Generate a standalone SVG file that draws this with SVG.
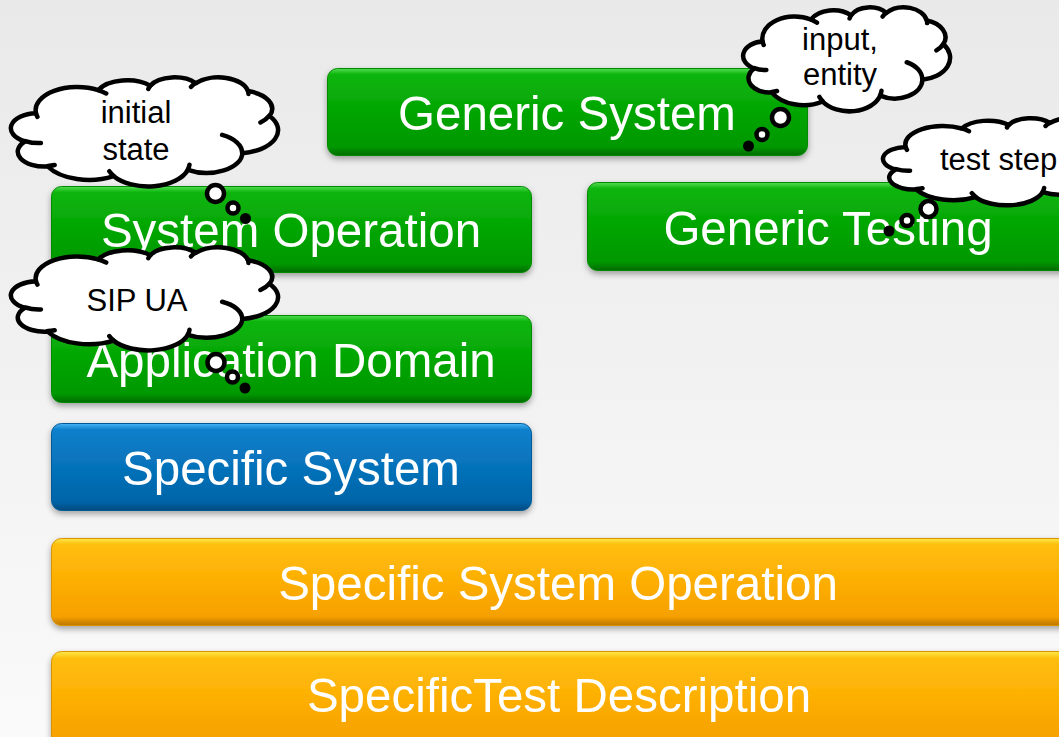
<svg xmlns="http://www.w3.org/2000/svg" xmlns:xlink="http://www.w3.org/1999/xlink" width="1059" height="737" viewBox="0 0 1059 737">
  <defs>
    <linearGradient id="bg" x1="0" y1="0" x2="0" y2="1">
      <stop offset="0" stop-color="#e9e9e9"/>
      <stop offset="1" stop-color="#fafafa"/>
    </linearGradient>
    <linearGradient id="gGreen" x1="0" y1="0" x2="0" y2="1">
      <stop offset="0" stop-color="#52dc52"/>
      <stop offset="0.07" stop-color="#0cb50c"/>
      <stop offset="0.5" stop-color="#04a504"/>
      <stop offset="0.9" stop-color="#009800"/>
      <stop offset="1" stop-color="#006c00"/>
    </linearGradient>
    <linearGradient id="gBlue" x1="0" y1="0" x2="0" y2="1">
      <stop offset="0" stop-color="#48b4f4"/>
      <stop offset="0.07" stop-color="#0b80cc"/>
      <stop offset="0.5" stop-color="#0672ba"/>
      <stop offset="0.9" stop-color="#0564a8"/>
      <stop offset="1" stop-color="#034a7e"/>
    </linearGradient>
    <linearGradient id="gOrange" x1="0" y1="0" x2="0" y2="1">
      <stop offset="0" stop-color="#ffe84a"/>
      <stop offset="0.07" stop-color="#ffbe0c"/>
      <stop offset="0.5" stop-color="#fdae04"/>
      <stop offset="0.9" stop-color="#f5a000"/>
      <stop offset="1" stop-color="#bd7600"/>
    </linearGradient>
    <filter id="shadow" x="-5%" y="-20%" width="110%" height="150%">
      <feDropShadow dx="0" dy="3" stdDeviation="3" flood-color="#000" flood-opacity="0.35"/>
    </filter>
    <!-- thought cloud outline in a 432 x 432 box -->
    <path id="cloudOutline" vector-effect="non-scaling-stroke" d="M 39,143.7 A 67.53 91.9 0 0 1 140.06 52.03 A 53.33 72.67 0 0 1 224.57 34.32 A 43.65 59.45 0 0 1 298.34 24.81 A 48.57 65.95 0 0 1 383.18 55.78 A 53.33 72.73 0 0 1 418.18 154.62 A 67.75 92.2 0 0 1 374.03 302.04 A 57.85 78.67 0 0 1 285.54 368.14 A 67.52 92.15 0 0 1 164.79 392.66 A 77.2 105.43 0 0 1 58.02 354.71 A 43.6 59.18 0 0 1 21.12 255.48 A 43.45 59.45 0 0 1 39 143.7 Z"/>
    <!-- inner crease arcs of the cloud -->
    <path id="cloudCreases" vector-effect="non-scaling-stroke" d="M 46.93 261.77 A 43.45 59.45 0 0 1 21.6 253.8 M 69.28 348.99 A 43.6 59.18 0 0 1 58.19 352.81 M 164.78 390.9 A 67.52 92.15 0 0 1 158.1 373.49 M 288.27 347.51 A 67.52 92.15 0 0 1 285.6 366.61 M 341.29 229.54 A 57.85 78.67 0 0 1 373.81 300.9 M 417.98 153.54 A 53.33 72.73 0 0 1 403.5 180.31 M 383.24 54.26 A 48.57 65.95 0 0 1 384.0 66.9 M 290.78 39.52 A 48.57 65.95 0 0 1 298.21 23.38 M 221.41 47.2 A 43.65 59.45 0 0 1 225 33.3 M 140 51.92 A 67.53 91.9 0 0 1 152.99 65.4 M 41.27 157.89 A 67.53 91.9 0 0 1 39 143.7"/>
  </defs>
  <style>
    .box { filter: url(#shadow); }
    .green { fill: url(#gGreen); stroke: #058a05; stroke-width: 1; }
    .blue { fill: url(#gBlue); stroke: #055a96; stroke-width: 1; }
    .orange { fill: url(#gOrange); stroke: #d99200; stroke-width: 1; }
    .label { font-family: "Liberation Sans", Arial, sans-serif; font-size: 47.5px; fill: #ffffff; text-anchor: middle; }
    .cloud { fill: #ffffff; stroke: #000000; stroke-width: 4.5; stroke-linejoin: round; }
    .crease { fill: none; stroke: #000000; stroke-width: 4.5; stroke-linecap: round; }
    .bubble { fill: #ffffff; stroke: #000000; stroke-width: 4.5; }
    .dot { fill: #000000; }
    .note { font-family: "Liberation Sans", Arial, sans-serif; font-size: 31px; fill: #000000; text-anchor: middle; }
  </style>

  <rect x="0" y="0" width="1059" height="737" fill="url(#bg)"/>

  <!-- layer boxes -->
  <g id="generic-system" class="box">
    <rect class="green" x="327.5" y="68.5" width="480" height="87" rx="10"/>
    <text class="label" x="567" y="130">Generic System</text>
  </g>
  <g id="system-operation" class="box">
    <rect class="green" x="51.5" y="186.5" width="480" height="86" rx="10"/>
    <text class="label" x="291" y="247">System Operation</text>
  </g>
  <g id="generic-testing" class="box">
    <rect class="green" x="587.5" y="182.5" width="500" height="88" rx="10"/>
    <text class="label" x="828" y="245">Generic Testing</text>
  </g>
  <g id="application-domain" class="box">
    <rect class="green" x="51.5" y="315.5" width="480" height="87" rx="10"/>
    <text class="label" x="291" y="377">Application Domain</text>
  </g>
  <g id="specific-system" class="box">
    <rect class="blue" x="51.5" y="423.5" width="480" height="87" rx="10"/>
    <text class="label" x="291" y="485">Specific System</text>
  </g>
  <g id="specific-system-operation" class="box">
    <rect class="orange" x="51.5" y="538.5" width="1050" height="87" rx="10"/>
    <text class="label" x="558" y="600">Specific System Operation</text>
  </g>
  <g id="specific-test-description" class="box">
    <rect class="orange" x="51.5" y="651.5" width="1050" height="100" rx="10"/>
    <text class="label" x="559" y="712">SpecificTest Description</text>
  </g>

  <!-- thought bubble trails -->
  <g id="connectors">
    <g id="trail-initial-state">
      <circle class="bubble" cx="215.5" cy="193.5" r="8.5"/>
      <circle class="bubble" cx="233" cy="208" r="5.5"/>
      <circle class="dot" cx="245.5" cy="218.5" r="5.5"/>
    </g>
    <g id="trail-input-entity">
      <circle class="bubble" cx="780.5" cy="117.5" r="8.5"/>
      <circle class="bubble" cx="762" cy="134.5" r="5.5"/>
      <circle class="dot" cx="748.5" cy="146" r="5.5"/>
    </g>
    <g id="trail-test-step">
      <circle class="bubble" cx="928.5" cy="209" r="8"/>
      <circle class="bubble" cx="907" cy="220.5" r="5.5"/>
      <circle class="dot" cx="889" cy="231" r="5.5"/>
    </g>
    <g id="trail-sip-ua">
      <circle class="bubble" cx="216" cy="362.5" r="8.5"/>
      <circle class="bubble" cx="232.5" cy="377" r="5.5"/>
      <circle class="dot" cx="245" cy="388" r="5.5"/>
    </g>
  </g>

  <g id="cloud-initial-state">
    <g transform="translate(12,77) scale(0.6157,0.2523)">
      <use xlink:href="#cloudOutline" class="cloud"/>
      <use xlink:href="#cloudCreases" class="crease"/>
    </g>
    <text class="note" x="136" y="123">initial</text>
    <text class="note" x="136" y="160">state</text>
  </g>

  <g id="cloud-input-entity">
    <g transform="translate(744,7) scale(0.4769,0.2407)">
      <use xlink:href="#cloudOutline" class="cloud"/>
      <use xlink:href="#cloudCreases" class="crease"/>
    </g>
    <text class="note" x="840" y="50">input,</text>
    <text class="note" x="840" y="85">entity</text>
  </g>

  <g id="cloud-test-step">
    <g transform="translate(884,118) scale(0.5556,0.2014)">
      <use xlink:href="#cloudOutline" class="cloud"/>
      <use xlink:href="#cloudCreases" class="crease"/>
    </g>
    <text class="note" x="940" y="170" style="text-anchor:start">test step</text>
  </g>

  <g id="cloud-sip-ua">
    <g transform="translate(12,247) scale(0.6157,0.2384)">
      <use xlink:href="#cloudOutline" class="cloud"/>
      <use xlink:href="#cloudCreases" class="crease"/>
    </g>
    <text class="note" x="137" y="311">SIP UA</text>
  </g>
</svg>
